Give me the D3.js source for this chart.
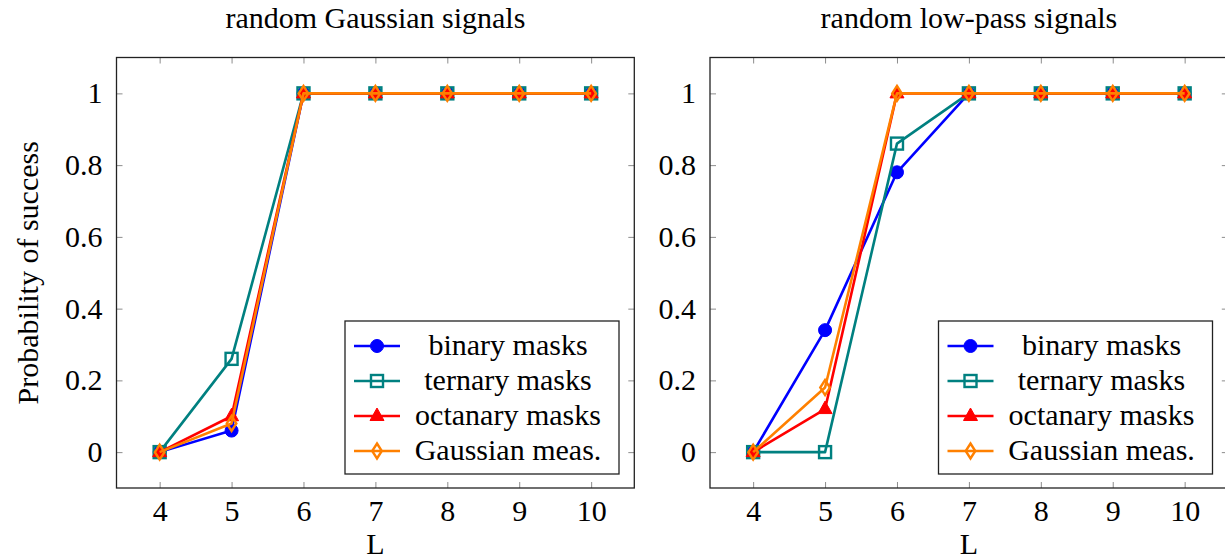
<!DOCTYPE html>
<html>
<head>
<meta charset="utf-8">
<script src="https://cdn.jsdelivr.net/npm/d3@7"></script>
<style>
  body { margin: 0; background: #fff; }
  svg text { font-family: "Liberation Serif", "DejaVu Serif", serif; fill: #000; }
</style>
</head>
<body>
<div id="chart"></div>
<script>
// values
var xValues = [4, 5, 6, 7, 8, 9, 10];
var seriesNames = ['binary masks', 'ternary masks', 'octanary masks', 'Gaussian meas.'];
var panelTitles = ['random Gaussian signals', 'random low-pass signals'];

var gaussBinary = [0, 0.06, 1, 1, 1, 1, 1];
var gaussTernary = [0, 0.26, 1, 1, 1, 1, 1];
var gaussOctanary = [0, 0.10, 1, 1, 1, 1, 1];
var gaussGaussian = [0, 0.08, 1, 1, 1, 1, 1];

var lowBinary = [0, 0.34, 0.78, 1, 1, 1, 1];
var lowTernary = [0, 0, 0.86, 1, 1, 1, 1];
var lowOctanary = [0, 0.12, 1, 1, 1, 1, 1];
var lowGaussian = [0, 0.18, 1, 1, 1, 1, 1];

var yTicks = [0, 0.2, 0.4, 0.6, 0.8, 1];

var colors = ['#0000ff', '#008080', '#ff0000', '#ff8000'];
var markers = ['circle', 'square', 'triangle', 'diamond'];

var width = 1225, height = 560;
var plotTop = 57.5, plotBottom = 488;
var fontSize = 30;
var panels = [
  {left: 116.5, right: 634.3, title: panelTitles[0], data: [gaussBinary, gaussTernary, gaussOctanary, gaussGaussian]},
  {left: 710, right: 1227.8, title: panelTitles[1], data: [lowBinary, lowTernary, lowOctanary, lowGaussian]}
];

var svg = d3.select('#chart').append('svg')
  .attr('width', width)
  .attr('height', height);

function drawMarker(g, type, color) {
  if (type == 'circle') {
    g.append('circle').attr('r', 6.5).attr('fill', color).attr('stroke', color);
  } else if (type == 'square') {
    g.append('rect').attr('x', -6).attr('y', -6).attr('width', 12).attr('height', 12)
      .attr('fill', 'none').attr('stroke', color).attr('stroke-width', 2.4);
  } else if (type == 'triangle') {
    g.append('path').attr('d', 'M0,-8L7,4.5L-7,4.5Z').attr('fill', color).attr('stroke', color);
  } else {
    g.append('path').attr('d', 'M0,-7.5L4.8,0L0,7.5L-4.8,0Z')
      .attr('fill', 'none').attr('stroke', color).attr('stroke-width', 2.4);
  }
}

panels.forEach(function(p, pi) {
  var x = d3.scaleLinear().domain([3.4, 10.6]).range([p.left, p.right]);
  var y = d3.scaleLinear().domain([-0.1, 1.1]).range([plotBottom, plotTop]);
  var g = svg.append('g');

  // ticks on all four sides, pointing in
  g.append('g').attr('transform', 'translate(0,' + plotBottom + ')')
    .call(d3.axisBottom(x).tickValues(xValues).tickSize(-6).tickPadding(12))
    .call(function(a) { a.select('.domain').remove(); });
  g.append('g').attr('transform', 'translate(0,' + plotTop + ')')
    .call(d3.axisTop(x).tickValues(xValues).tickSize(-6).tickFormat(''))
    .call(function(a) { a.select('.domain').remove(); });
  g.append('g').attr('transform', 'translate(' + p.left + ',0)')
    .call(d3.axisLeft(y).tickValues(yTicks).tickSize(-6).tickPadding(14).tickFormat(d3.format('')))
    .call(function(a) { a.select('.domain').remove(); });
  g.append('g').attr('transform', 'translate(' + p.right + ',0)')
    .call(d3.axisRight(y).tickValues(yTicks).tickSize(-6).tickFormat(''))
    .call(function(a) { a.select('.domain').remove(); });

  g.selectAll('.tick line').attr('stroke', '#8c8c8c').attr('stroke-width', 1);
  g.selectAll('.tick text').attr('font-size', fontSize)
    .style('font-family', '"Liberation Serif", serif').attr('fill', '#000');

  g.append('rect')
    .attr('x', p.left).attr('y', plotTop)
    .attr('width', p.right - p.left).attr('height', plotBottom - plotTop)
    .attr('fill', 'none').attr('stroke', '#222').attr('stroke-width', 1.3);

  // series
  var line = d3.line().x(function(d, i) { return x(xValues[i]); }).y(function(d) { return y(d); });
  p.data.forEach(function(vals, si) {
    g.append('path').datum(vals)
      .attr('d', line)
      .attr('fill', 'none')
      .attr('stroke', colors[si])
      .attr('stroke-width', 2.6)
      .attr('stroke-linejoin', 'round');
    vals.forEach(function(v, i) {
      var m = g.append('g').attr('transform', 'translate(' + x(xValues[i]) + ',' + y(v) + ')');
      drawMarker(m, markers[si], colors[si]);
    });
  });

  // title and axis label
  svg.append('text')
    .attr('x', p.left + 258.9)
    .attr('y', 28)
    .attr('text-anchor', 'middle')
    .attr('font-size', fontSize)
    .text(p.title);
  svg.append('text')
    .attr('x', x(7))
    .attr('y', 554)
    .attr('text-anchor', 'middle')
    .attr('font-size', fontSize)
    .text('L');

  // legend
  var lx = p.left + 228.5, ly = 321, lw = 274, lh = 153;
  var lg = g.append('g');
  lg.append('rect').attr('x', lx).attr('y', ly).attr('width', lw).attr('height', lh)
    .attr('fill', '#fff').attr('stroke', '#222').attr('stroke-width', 1.3);
  seriesNames.forEach(function(name, si) {
    var ry = ly + 25 + si * 35;
    lg.append('line').attr('x1', lx + 9).attr('x2', lx + 55).attr('y1', ry).attr('y2', ry)
      .attr('stroke', colors[si]).attr('stroke-width', 2.6);
    var m = lg.append('g').attr('transform', 'translate(' + (lx + 32) + ',' + ry + ')');
    drawMarker(m, markers[si], colors[si]);
    lg.append('text')
      .attr('x', lx + 163).attr('y', ry + 9)
      .attr('text-anchor', 'middle')
      .attr('font-size', fontSize)
      .text(name);
  });
});

svg.append('text')
  .attr('transform', 'translate(38,' + ((plotTop + plotBottom) / 2) + ') rotate(-90)')
  .attr('text-anchor', 'middle')
  .attr('font-size', fontSize)
  .text('Probability of success');
</script>
</body>
</html>
